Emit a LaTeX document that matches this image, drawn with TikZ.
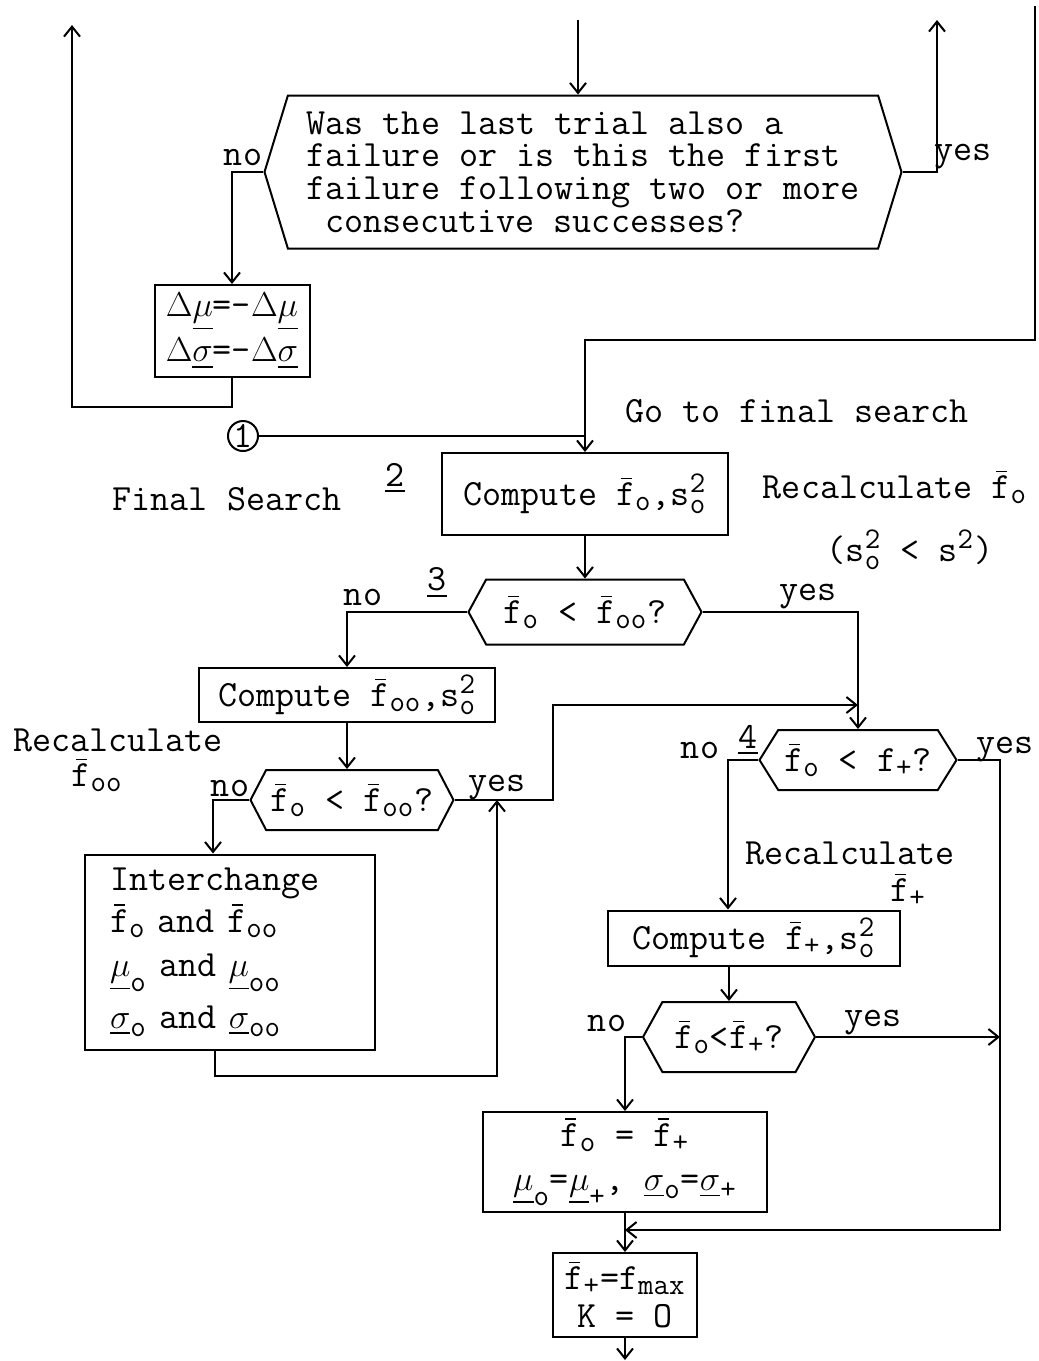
\documentclass[tikz,border=0pt]{standalone}
\usepackage{amsmath}
\usetikzlibrary{arrows.meta,positioning,shapes.symbols}

\newcommand{\lo}[1]{\text{\fontsize{15}{15}\selectfont #1}}
\newcommand{\barf}{\rlap{\hspace{2.2pt}\raisebox{13pt}{\rule{5.5pt}{0.8pt}}}f}
\newcommand{\fb}[1]{$\text{\barf}_{\lo{#1}}$}
\newcommand{\sq}[1]{$\text{s}^{\lo{2}}_{\lo{#1}}$}
\newcommand{\mus}[1]{$\underline{\mu}_{\lo{#1}}$}
\newcommand{\sig}[1]{$\underline{\sigma}_{\lo{#1}}$}

\begin{document}
\begin{tikzpicture}[x=0.5pt,y=-0.5pt,>={Straight Barb[length=5pt,width=8pt]},
    font=\fontsize{18.5}{16.3}\selectfont\ttfamily,line width=1pt,
    every node/.style={align=center,inner sep=1pt},
    box/.style={draw,rectangle},
    decide/.style={draw,signal,signal to=west and east}]
  \useasboundingbox (0,0) rectangle (1039,1361);
  % first search: failure of the trial
  \coordinate (entry) at (578,20);
  \coordinate (repeat) at (72,25);
  \coordinate (toback) at (937,20);
  \coordinate (fromfirst) at (1035,6);
  \node[decide,signal pointer angle=146,minimum width=318.5pt,minimum height=76.5pt,align=left] (last) at (583,172)
    {Was the last trial also a\\failure or is this the first\\failure following two or more\\\hspace*{0.5em}consecutive successes?};
  \node (lastno) at (243,157) {no};
  \node (lastyes) at (963,157) {yes};
  \node[box,minimum width=77.5pt,minimum height=46pt] (flip) at (232,331)
    {$\Delta\underline{\mu}$=-$\Delta\underline{\mu}$\\[3pt]$\Delta\underline{\sigma}$=-$\Delta\underline{\sigma}$};
  % final search
  \node[draw,circle,minimum size=15pt,inner sep=0pt] (one) at (243,436) {1};
  \node (gofinal) at (797,411) {Go to final search};
  \node (finalsearch) at (227,499) {Final Search};
  \node (step2) at (395,478) {\underline{2}};
  \node[box,minimum width=143pt,minimum height=41pt] (cfo) at (585,494) {Compute \fb{o},\sq{o}};
  \node (recfo) at (895,487) {Recalculate \fb{o}};
  \node (ssless) at (910,550) {(\sq{o} < $\text{s}^{\lo{2}}$)};
  \node (step3) at (437,583) {\underline{3}};
  \node[decide,signal pointer angle=123,minimum width=116.5pt,minimum height=32.5pt] (cmp1) at (585,612) {\fb{o} < \fb{oo}?};
  \node (cmp1no) at (363,597) {no};
  \node (cmp1yes) at (808,597) {yes};
  \node[box,minimum width=148pt,minimum height=27pt] (cfoo) at (347,695) {Compute \fb{oo},\sq{o}};
  \node (recfoo) at (118,740) {Recalculate};
  \node (recfoob) at (97,775) {\fb{oo}};
  \node[decide,signal pointer angle=125,minimum width=101.5pt,minimum height=30pt] (cmp2) at (352,800) {\fb{o} < \fb{oo}?};
  \node (cmp2no) at (230,788) {no};
  \node (cmp2yes) at (497,788) {yes};
  \node[box,minimum width=145pt,minimum height=97.5pt,align=left,text width=120pt] (swap) at (230,952)
    {Interchange\\[2pt]\fb{o} and \fb{oo}\\[6pt]\mus{o} and \mus{oo}\\[6pt]\sig{o} and \sig{oo}};
  \node (step4) at (748,740) {\underline{4}};
  \node[decide,signal pointer angle=116,minimum width=98.5pt,minimum height=30pt] (cmp3) at (858,760) {\fb{o} < $\text{f}_{\lo{+}}$?};
  \node (cmp3no) at (700,750) {no};
  \node (cmp3yes) at (1005,750) {yes};
  \node (recfp) at (850,853) {Recalculate};
  \node (recfpb) at (908,890) {\fb{+}};
  \node[box,minimum width=146pt,minimum height=27.5pt] (cfp) at (754,938) {Compute \fb{+},\sq{o}};
  \node[decide,signal pointer angle=122,minimum width=86pt,minimum height=35pt] (cmp4) at (729,1037) {\fb{o}<\fb{+}?};
  \node (cmp4no) at (607,1023) {no};
  \node (cmp4yes) at (873,1023) {yes};
  \node[box,minimum width=142pt,minimum height=50pt] (keep) at (625,1162)
    {\fb{o} = \fb{+}\\[6pt]\mus{o}=\mus{+}, \sig{o}=\sig{+}};
  \node[box,minimum width=72pt,minimum height=42pt] (reset) at (625,1295) {\fb{+}=$\text{f}_{\lo{max}}$\\[3pt]K = O};
  \coordinate (exit) at (625,1360);
  \coordinate (join1) at (858,705);
  \coordinate (join2) at (497,800);
  \coordinate (join3) at (625,1230);
  \coordinate (join4) at (1000,1037);
  % connectors
  \draw[->] (entry) -- (entry |- last.north);
  \draw[->] (last.west) -| (flip.north);
  \draw[->] (last.east) -| (toback);
  \draw[->] (flip.south) -- ++(0,29) -| (repeat);
  \draw[->] (fromfirst) -- ++(0,334) -| (cfo.north);
  \draw (one.east) -- (one -| cfo.north);
  \draw[->] (cfo.south) -- (cmp1.north);
  \draw[->] (cmp1.west) -| (cfoo.north);
  \draw[->] (cmp1.east) -| (cmp3.north);
  \draw[->] (cfoo.south) -- (cfoo.south |- cmp2.north);
  \draw[->] (cmp2.west) -| ([xshift=-8.5pt]swap.north);
  \draw[->] (cmp2.east) -- ++(98,0) |- (join1);
  \draw[->] ([xshift=-7.5pt]swap.south) -- ++(0,25) -| (join2);
  \draw[->] (cmp3.west) -| ([xshift=-13pt]cfp.north);
  \draw[->] (cmp3.east) -- (cmp3.east -| join4) |- (join3);
  \draw[->] (cmp4.north |- cfp.south) -- (cmp4.north);
  \draw[->] (cmp4.east) -- (join4);
  \draw[->] (cmp4.west) -| (keep.north);
  \draw[->] (keep.south) -- (reset.north);
  \draw[->] (reset.south) -- (exit);
\end{tikzpicture}
\end{document}
